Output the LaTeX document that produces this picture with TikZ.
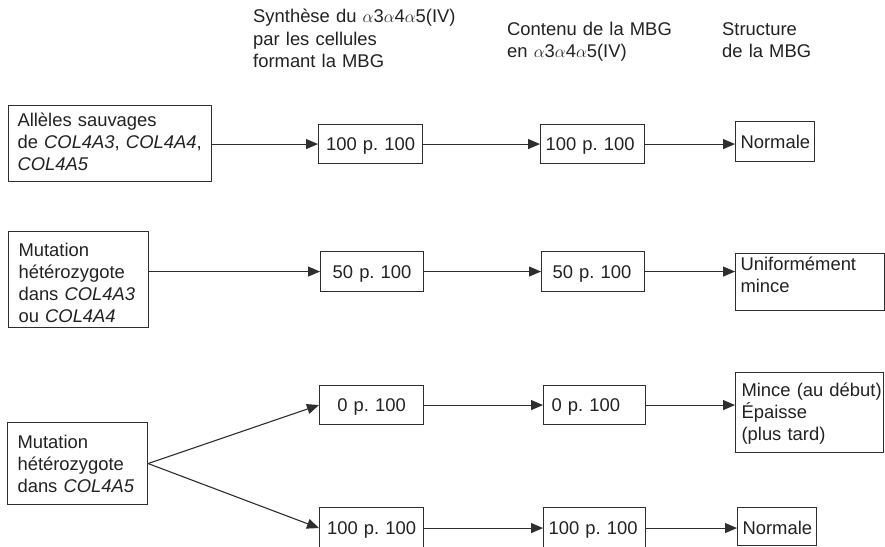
\documentclass[tikz,border=0pt]{standalone}
\usepackage{fontspec}
\setmainfont{Liberation Sans}
\usetikzlibrary{arrows.meta}
\definecolor{ink}{HTML}{222222}
\definecolor{rulec}{HTML}{2E2E2E}
\begin{document}
\begin{tikzpicture}[x=1pt,y=-1pt,
  font=\fontsize{18.4}{22}\selectfont, text=ink,
  cell/.style={draw=rulec, line width=1.1pt, inner ysep=0pt, align=left, anchor=north west},
  ccell/.style={cell, align=center},
  head/.style={inner sep=0pt, align=left, anchor=base west, text width=250pt,
    font=\fontsize{18.4}{22.7}\selectfont},
  arr/.style={draw=rulec, line width=1.1pt, -{Triangle[length=12pt,width=10pt]}}]
\useasboundingbox (0,0) rectangle (885,546);
\fill[white] (0,0) rectangle (885,546);
\clip (0,0) rectangle (885,546);

% column headings
\node[head] (h1) at (253,22.5) {Synthèse du $\alpha$3$\alpha$4$\alpha$5(IV)\\par les cellules\\formant la MBG};
\node[head] (h2) at (507,35) {Contenu de la MBG\\en $\alpha$3$\alpha$4$\alpha$5(IV)};
\node[head] (h3) at (722,35) {Structure\\de la MBG};

% genotypes
\node[cell, inner xsep=9pt, text width=185pt, text height=21pt, text depth=55pt] (a1) at (8,105)
  {Allèles sauvages\\de~\textit{COL4A3},~\textit{COL4A4},\\\textit{COL4A5}};
\node[cell, inner xsep=10pt, text width=120pt, text height=25pt, text depth=71pt] (a2) at (8,231)
  {Mutation\\hétérozygote\\dans~\textit{COL4A3}\\ou~\textit{COL4A4}};
\node[cell, inner xsep=10pt, text width=120pt, text height=26pt, text depth=56pt] (a3) at (7,422)
  {Mutation\\hétérozygote\\dans~\textit{COL4A5}};

% synthesis
\node[ccell, inner xsep=7pt, text width=90pt, text height=26pt, text depth=13pt] (b1) at (318,124) {100~p.~100};
\node[ccell, inner xsep=7pt, text width=89pt, text height=27pt, text depth=13pt] (b2) at (320,251) {50~p.~100};
\node[ccell, inner xsep=7pt, text width=90pt, text height=26pt, text depth=13pt] (b3) at (319,385) {0~p.~100};
\node[ccell, inner xsep=7pt, text width=90pt, text height=27pt, text depth=14pt] (b4) at (319,507) {100~p.~100};

% content of the GBM
\node[cell, inner xsep=5pt, text width=94pt, text height=26pt, text depth=13pt] (c1) at (540,124) {100~p.~100};
\node[cell, inner xsep=11pt, text width=81pt, text height=27pt, text depth=13pt] (c2) at (541,251) {50~p.~100};
\node[cell, inner xsep=8pt, text width=86pt, text height=26pt, text depth=13pt] (c3) at (543,385) {0~p.~100};
\node[cell, inner xsep=5pt, text width=92pt, text height=27pt, text depth=14pt] (c4) at (543,507) {100~p.~100};

% structure of the GBM
\node[cell, inner xsep=5pt, text width=69pt, text height=27pt, text depth=13pt] (d1) at (735,121) {Normale};
\node[cell, inner xsep=5pt, text width=139pt, text height=17pt, text depth=40pt] (d2) at (735,253) {Uniformément\\mince};
\node[cell, inner xsep=6pt, text width=136pt, text height=24pt, text depth=56pt] (d3) at (735,372)
  {Mince~(au~début)\\Épaisse\\(plus~tard)};
\node[cell, inner xsep=5pt, text width=69pt, text height=27pt, text depth=11pt] (d4) at (737,507) {Normale};

% connectors
\draw[arr] (a1.east |- b1.west) -- (b1.west);
\draw[arr] (b1.east) -- (c1.west);
\draw[arr] (c1.east) -- (c1.east -| d1.west);

\draw[arr] (a2.east |- b2.west) -- (b2.west);
\draw[arr] (b2.east) -- (c2.west);
\draw[arr] (c2.east) -- (c2.east -| d2.west);

\draw[arr] (a3.east) -- (b3.west);
\draw[arr] (a3.east) -- (b4.west);
\draw[arr] (b3.east) -- (c3.west);
\draw[arr] (c3.east) -- (c3.east -| d3.west);
\draw[arr] (b4.east) -- (c4.west);
\draw[arr] (c4.east) -- (c4.east -| d4.west);
\end{tikzpicture}
\end{document}
